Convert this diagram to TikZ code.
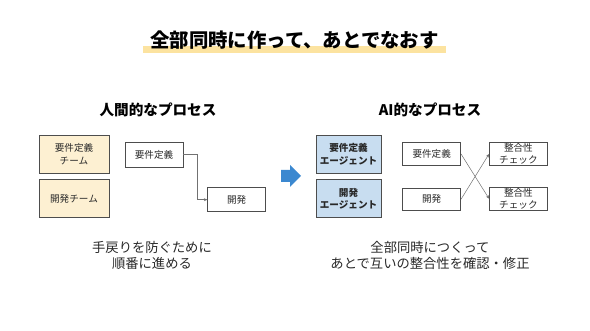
\documentclass[tikz,border=0pt]{standalone}
\usepackage{fontspec}
\setmainfont{Noto Sans CJK JP}
\usepackage{tikz}
\usetikzlibrary{arrows.meta,positioning}
\definecolor{MarkerYellow}{RGB}{252,227,160}
\definecolor{TeamCream}{RGB}{253,240,210}
\definecolor{AgentBlue}{RGB}{200,221,240}
\definecolor{ShiftBlue}{RGB}{59,136,208}
\definecolor{Edge}{RGB}{77,77,77}
\definecolor{Ink}{RGB}{40,40,40}

\begin{document}
\begin{tikzpicture}[
  x=1pt, y=-1pt,
  font=\fontsize{9.6}{12.5}\selectfont,
  box/.style={draw=Edge, line width=0.7pt, fill=white, align=center, text=Ink,
    inner sep=0pt, minimum width=58pt, minimum height=24pt},
  team/.style={box, fill=TeamCream, minimum width=70pt, minimum height=38pt},
  agent/.style={box, fill=AgentBlue, minimum width=65pt, minimum height=38pt,
    font=\fontsize{9.6}{12.5}\selectfont\bfseries},
  heading/.style={font=\fontsize{14.6}{17}\selectfont\bfseries, text=black},
  caption/.style={font=\fontsize{13.3}{15.5}\selectfont, align=center, text=Ink},
  arr/.style={-{Stealth[length=3.5pt,width=3pt]}, line width=0.5pt, draw=Edge!80},
]
\useasboundingbox (0,0) rectangle (590,331);

% title with marker
\fill[MarkerYellow] (143,46) rectangle (446,53);
\node[font=\fontsize{19.4}{22}\selectfont\bfseries, text=black] (title) at (294.5,40) {全部同時に作って、あとでなおす};

% human process
\node[heading] (human) at (158,110) {人間的なプロセス};
\node[team] (reqteam) at (74,154) {要件定義\\チーム};
\node[team, below=6pt of reqteam] (devteam) {開発チーム};
\node[box, minimum height=25pt] (req) at (154,154.5) {要件定義};
\node[box, below right=20pt and 24pt of req] (dev) {開発};
\draw[arr] (req.east) -- ++(14,0) |- (dev.west);
\node[caption] (humannote) at (152,255.5) {手戻りを防ぐために\\順番に進める};

% shift arrow
\fill[ShiftBlue] (281,170) -- (290,170) -- (290,165) -- (301,176)
  -- (290,187) -- (290,182) -- (281,182) -- cycle;

% AI process
\node[heading] (ai) at (430,110) {AI的なプロセス};
\node[agent] (reqagent) at (348.5,154) {要件定義\\エージェント};
\node[agent, below=6pt of reqagent] (devagent) {開発\\エージェント};
\node[box, minimum height=23pt, right=21pt of reqagent.east, anchor=west] (req2) {要件定義};
\node[box, minimum height=22pt, below=22pt of req2] (dev2) {開発};
\node[box, minimum height=23pt, right=28pt of req2] (check1) {整合性\\チェック};
\node[box, minimum height=23pt, below=21pt of check1] (check2) {整合性\\チェック};
\draw[arr] (req2.east) -- (check2.west);
\draw[arr] (dev2.east) -- (check1.west);
\node[caption] (ainote) at (430,255.5) {全部同時につくって\\あとで互いの整合性を確認・修正};
\end{tikzpicture}
\end{document}
